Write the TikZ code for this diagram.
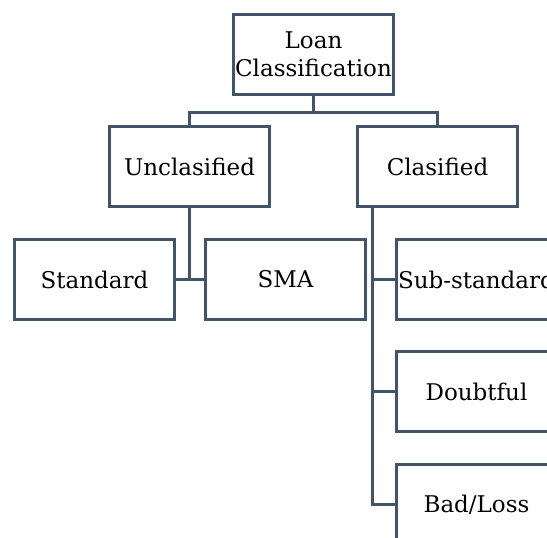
\documentclass[tikz,border=0pt]{standalone}
\usepackage{fontspec}
\setmainfont{DejaVu Serif}
\usetikzlibrary{calc}
\definecolor{boxline}{HTML}{435369}
\tikzset{
  box/.style={draw=boxline, line width=3pt, fill=white, rectangle,
    minimum width=160pt, minimum height=80pt, inner sep=0pt, anchor=north west,
    font=\fontsize{23}{28}\selectfont, align=center},
  wire/.style={draw=boxline, line width=3pt}
}
\begin{document}
\begin{tikzpicture}[x=1pt, y=-1pt]
  \useasboundingbox (0,0) rectangle (547,538);
  \clip (0,0) rectangle (547,538);
  % boxes, placed by their top-left corners
  \node[box] (loan)  at (232,13)  {Loan\\Classification};
  \node[box] (uncl)  at (108,125) {Unclasified};
  \node[box] (clas)  at (356,125) {Clasified};
  \node[box] (std)   at (13,238)  {Standard};
  \node[box] (sma)   at (204,238) {SMA};
  \node[box] (sub)   at (395,238) {Sub-standard};
  \node[box] (doubt) at (395,350) {Doubtful};
  \node[box] (bad)   at (395,463) {Bad/Loss};
  % top level
  \coordinate (split) at ($(loan.south)+(0,16)$);
  \draw[wire] (loan.south) -- (split);
  \draw[wire] (uncl.north) |- (split) -| (clas.north);
  % unclassified branch
  \coordinate (ujoin) at (uncl.south |- std.east);
  \draw[wire] (uncl.south) -- (ujoin);
  \draw[wire] (std.east) -- (sma.west);
  % classified branch
  \coordinate (cspine) at ($(clas.south west)+(16,0)$);
  \draw[wire] (cspine) |- (bad.west);
  \draw[wire] (cspine |- sub.west) -- (sub.west);
  \draw[wire] (cspine |- doubt.west) -- (doubt.west);
\end{tikzpicture}
\end{document}
